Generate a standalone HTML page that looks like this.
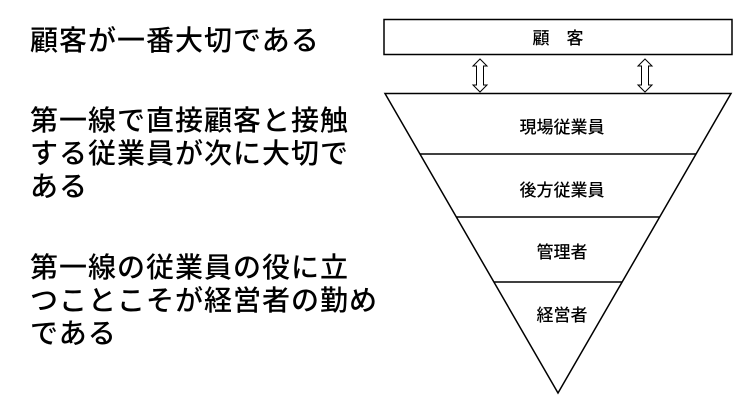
<!DOCTYPE html>
<html><head><meta charset="utf-8"><style>
body{margin:0;width:748px;height:420px;background:#fff;overflow:hidden;position:relative;font-family:"Liberation Sans","Noto Sans CJK JP",sans-serif;color:#000}
.t{position:absolute;left:30px;font-size:28px;line-height:33px;white-space:nowrap;letter-spacing:1px;font-weight:500}
</style></head><body>
<div class="t" style="top:24px">顧客が一番大切である</div>
<div class="t" style="top:104px">第一線で直接顧客と接触<br>する従業員が次に大切で<br>ある</div>
<div class="t" style="top:251px">第一線の従業員の役に立<br>つことこそが経営者の勤め<br>である</div>
<svg width="748" height="420" style="position:absolute;left:0;top:0" font-family="Liberation Sans, Noto Sans CJK JP, sans-serif">
<rect x="384" y="19.5" width="348" height="35" fill="#fff" stroke="#000" stroke-width="1.5"/>
<text x="558" y="44" font-size="17" font-weight="500" text-anchor="middle">顧　客</text>
<g fill="#fff" stroke="#000" stroke-width="1">
<path d="M480 59 L487 66 L483.5 66 L483.5 85 L487 85 L480 92 L473 85 L476.5 85 L476.5 66 L473 66 Z"/>
<path d="M645 59 L652 66 L648.5 66 L648.5 85 L652 85 L645 92 L638 85 L641.5 85 L641.5 66 L638 66 Z"/>
</g>
<path d="M385 93.5 L731 93.5 L558 393 Z" fill="none" stroke="#000" stroke-width="1.5"/>
<line x1="420" y1="154" x2="696" y2="154" stroke="#000" stroke-width="1.5"/>
<line x1="456" y1="217" x2="660" y2="217" stroke="#000" stroke-width="1.5"/>
<line x1="494" y1="282" x2="622" y2="282" stroke="#000" stroke-width="1.5"/>
<g font-size="17" font-weight="500" text-anchor="middle">
<text x="562" y="133">現場従業員</text>
<text x="562" y="196">後方従業員</text>
<text x="562" y="258">管理者</text>
<text x="562" y="321">経営者</text>
</g>
</svg>
</body></html>
